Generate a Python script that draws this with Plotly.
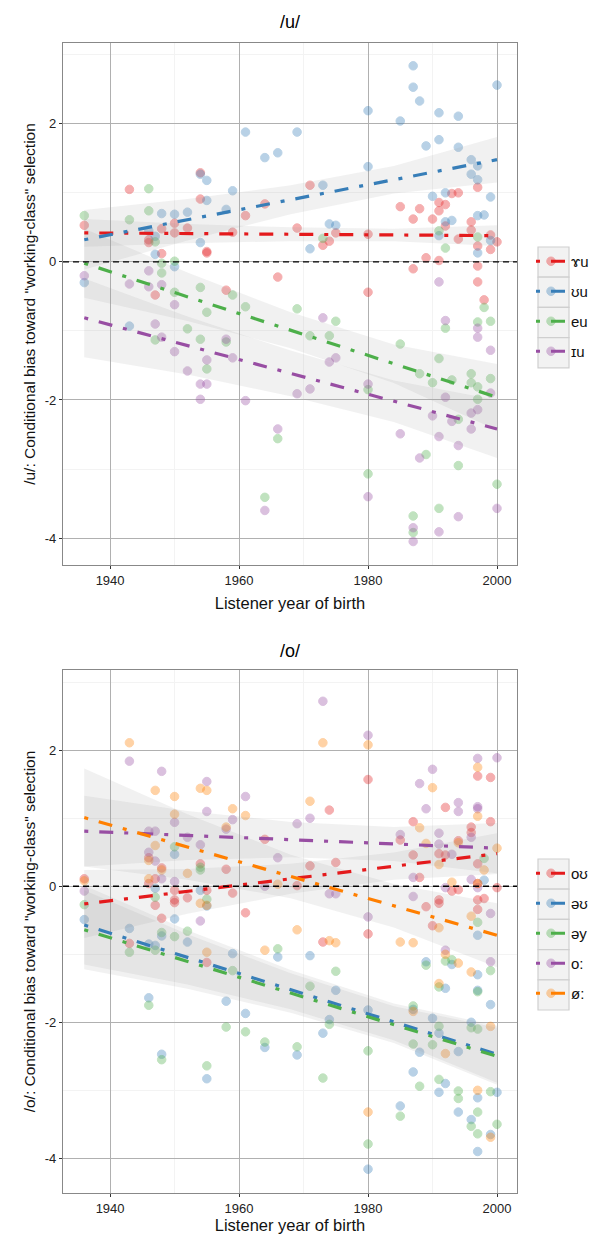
import plotly.graph_objects as go

# The page body has an 8px default margin, so the figure is sized and placed to compensate.
OFF = 8
W, H = 590, 1226
FONT = "Liberation Sans, Arial, sans-serif"

# ---------------- /u/ panel data ----------------
u_cats = ["ɤu", "ʊu", "eu", "ɪu"]
u_colors = ["#E41A1C", "#377EB8", "#4DAF4A", "#984EA3"]

u_ru_year = [1943, 1954, 1954, 1936, 1961, 1964, 1950, 1948, 1950, 1952, 1959, 1946, 1946, 1948, 1955, 1955,
             1958, 1966, 1947, 1971, 1997, 1993, 1994, 1991, 1992, 1985, 1988, 1991, 1987, 1990, 1996, 1992,
             1996, 1969, 1975, 1974, 1973, 1980, 1994, 1999, 2000, 1997, 1999, 1989, 1991, 1997, 1987, 1997,
             1980, 1998]
u_ru_val = [1.05, 1.29, 0.91, 0.53, 0.67, 0.84, 0.56, 0.48, 0.42, 0.49, 0.43, 0.32, 0.28, 0.12, 0.15, 0.13,
            -0.41, -0.22, -0.48, 1.11, 1.08, 0.99, 1.00, 0.86, 0.83, 0.80, 0.77, 0.74, 0.62, 0.62, 0.58, 0.52,
            0.46, 0.49, 0.42, 0.30, 0.24, 0.40, 0.33, 0.39, 0.29, 0.23, 0.18, 0.06, 0.02, -0.06, -0.10, -0.29,
            -0.44, -0.55]

u_uu_year = [1961, 1964, 1966, 1954, 1955, 1955, 1959, 1948, 1950, 1952, 1958, 1946, 1947, 1947, 1954, 1950,
             1936, 1943, 1987, 1987, 1988, 2000, 1980, 1985, 1991, 1994, 1969, 1989, 1991, 1994, 1996, 1997,
             1980, 1996, 1997, 1999, 1973, 1990, 1992, 1997, 1998, 1992, 1993, 1991, 1974, 1975, 1971, 1999,
             1997]
u_uu_val = [1.88, 1.51, 1.58, 1.27, 1.18, 0.89, 1.03, 0.70, 0.69, 0.72, 0.76, 0.45, 0.37, 0.11, 0.28, -0.07,
            -0.30, -0.93, 2.84, 2.53, 2.33, 2.56, 2.19, 2.04, 2.16, 2.11, 1.88, 1.68, 1.77, 1.66, 1.48, 1.39,
            1.38, 1.27, 1.19, 0.94, 1.11, 0.95, 1.00, 0.67, 0.68, 0.58, 0.60, 0.38, 0.55, 0.53, 0.19, 0.31,
            0.13]

u_eu_year = [1946, 1946, 1943, 1936, 1947, 1948, 1950, 1948, 1950, 1954, 1959, 1973, 1991, 1997, 1992, 1955,
             1961, 1947, 1952, 1954, 1958, 1955, 1966, 1964, 1969, 1975, 1971, 1974, 1985, 1992, 1998, 1997,
             1999, 1991, 1988, 1990, 1993, 1996, 1996, 1997, 1999, 1980, 1997, 1994, 1989, 1994, 1980, 2000,
             1991, 1987, 1987]
u_eu_val = [1.06, 0.74, 0.61, 0.67, 0.29, -0.02, 0.01, -0.16, -0.44, -0.37, -0.48, 0.34, 0.45, 0.36, 0.20, -0.73,
            -0.65, -1.13, -0.97, -1.12, -1.16, -1.55, -2.56, -3.41, -0.68, -0.86, -1.07, -1.07, -1.19, -0.96, -0.66, -0.87,
            -0.86, -1.40, -1.62, -1.75, -1.71, -1.62, -1.75, -1.81, -1.69, -1.85, -1.99, -2.28, -2.79, -2.95, -3.07, -3.22,
            -3.57, -3.68, -3.92]

u_iu_year = [1946, 1936, 1943, 1946, 1948, 1950, 1947, 1948, 1958, 1950, 1955, 1959, 1952, 1954, 1955, 1954,
             1961, 1966, 1964, 1973, 1974, 1975, 1969, 1971, 1992, 1997, 1997, 1999, 1980, 1992, 1997, 1996,
             1999, 1990, 1993, 1996, 1985, 1991, 1994, 1988, 1980, 2000, 1994, 1987, 1987, 1991, 1991]
u_iu_val = [-0.13, -0.20, -0.32, -0.36, -0.33, -0.62, -0.90, -1.09, -1.12, -1.30, -1.42, -1.39, -1.58, -1.77, -1.77, -1.99,
            -2.01, -2.42, -3.60, -0.81, -1.45, -1.39, -1.91, -1.84, -0.85, -0.96, -1.09, -1.28, -1.77, -1.96, -2.14, -2.19,
            -1.90, -2.23, -2.31, -2.42, -2.49, -2.53, -2.66, -2.84, -3.40, -3.57, -3.69, -3.85, -4.05, -3.91, -0.29]

u_years = [u_ru_year, u_uu_year, u_eu_year, u_iu_year]
u_vals = [u_ru_val, u_uu_val, u_eu_val, u_iu_val]

# fitted lines (value at first / last year) and confidence half-widths
fit_years = [1936, 2000]
u_fit_start = [0.42, 0.32, -0.02, -0.81]
u_fit_end = [0.38, 1.48, -1.96, -2.42]
band_years = [1936, 1952, 1968, 1984, 2000]
u_band_half = [
    [0.20, 0.14, 0.10, 0.09, 0.15],
    [0.43, 0.30, 0.21, 0.20, 0.33],
    [0.50, 0.35, 0.26, 0.28, 0.48],
    [0.57, 0.42, 0.33, 0.30, 0.42],
]

# ---------------- /o/ panel data ----------------
o_cats = ["oʊ", "əʊ", "əy", "o:", "ø:"]
o_colors = ["#E41A1C", "#377EB8", "#4DAF4A", "#984EA3", "#FF7F00"]

o_ou_year = [1946, 1954, 1948, 1958, 1964, 1947, 1936, 1946, 1950, 1955, 1959, 1952, 1950, 1947, 1950, 1961,
             1948, 1943, 1955, 1980, 1997, 1999, 1974, 1992, 1999, 1987, 1996, 1996, 1985, 1994, 1987, 1991,
             1992, 1997, 1971, 1975, 1988, 1997, 2000, 1993, 1994, 1969, 1991, 1997, 1998, 1980, 1973, 1989,
             1991, 1990, 1997]
o_ou_val = [0.42, 0.33, 0.27, 0.25, 0.69, 0.11, 0.11, 0.04, -0.06, -0.06, -0.10, -0.17, -0.20, -0.28, -0.24, -0.39,
            -0.47, -0.84, -1.12, 1.57, 1.62, 1.60, 1.12, 1.16, 0.95, 0.95, 0.87, 0.79, 0.68, 0.67, 0.46, 0.48,
            0.46, 0.33, 0.30, 0.35, 0.13, 0.04, -0.02, -0.07, -0.05, 0.01, -0.20, -0.20, -0.18, -0.70, -0.82, -0.30,
            -0.25, -0.58, -0.34]

o_eu_year = [1950, 1947, 1954, 1998, 1955, 1936, 1950, 1943, 1948, 1952, 1946, 1947, 1959, 1966, 1946, 1958,
             1961, 1964, 1948, 1955, 1997, 1993, 1997, 1989, 1971, 1975, 1992, 1997, 1999, 1980, 1987, 1974,
             1973, 1969, 1990, 1991, 1996, 1988, 1994, 1987, 1991, 1992, 1994, 1997, 2000, 1996, 1999, 1997,
             1985, 1980]
o_eu_val = [0.47, -0.03, -0.06, 0.09, -0.29, -0.49, -0.48, -0.62, -0.73, -0.82, -0.85, -0.87, -0.99, -1.04, -1.64, -1.69,
            -1.87, -2.37, -2.47, -2.83, -0.72, -1.15, -1.30, -1.11, -1.02, -1.53, -1.50, -1.53, -1.74, -1.82, -1.81, -1.96,
            -2.16, -2.48, -1.94, -2.16, -2.00, -2.44, -2.43, -2.73, -3.03, -2.90, -3.32, -3.11, -3.03, -3.43, -3.65, -3.90,
            -3.23, -4.16]

o_ey_year = [1950, 1954, 1954, 1998, 1947, 1955, 1936, 1948, 1950, 1952, 1943, 1947, 1959, 1966, 1946, 1958,
             1961, 1964, 1948, 1955, 1997, 1993, 1992, 1999, 1989, 1975, 1971, 1991, 1997, 1987, 1974, 1969,
             1991, 1996, 1997, 1987, 1990, 1980, 1973, 1988, 1991, 1994, 1994, 1999, 1997, 1996, 1997, 2000,
             1985, 1980]
o_ey_val = [0.58, 0.28, 0.24, 0.41, -0.16, -0.19, -0.27, -0.68, -0.74, -0.66, -0.97, -0.94, -1.24, -0.92, -1.75, -2.07,
            -2.14, -2.29, -2.55, -2.64, -0.53, -1.08, -1.10, -1.24, -1.16, -1.25, -1.47, -1.48, -1.55, -1.76, -2.03, -2.36,
            -2.06, -2.08, -2.10, -2.32, -2.33, -2.42, -2.82, -2.94, -2.84, -3.01, -3.12, -3.02, -3.32, -3.53, -3.64, -3.50,
            -3.38, -3.79]

o_oo_year = [1943, 1948, 1955, 1955, 1950, 1959, 1961, 1958, 1946, 1947, 1952, 1954, 1946, 1947, 1966, 1948,
             1936, 1950, 1964, 1954, 1973, 1980, 1997, 2000, 1990, 1988, 1969, 1971, 1989, 1994, 1994, 1997,
             1997, 1996, 1991, 1985, 1991, 1993, 1987, 1996, 1992, 1997, 1974, 1975, 1987, 1980, 1999, 1992,
             1999]
o_oo_val = [1.84, 1.69, 1.54, 1.10, 0.94, 0.98, 1.32, 0.84, 0.81, 0.81, 0.72, 0.61, 0.50, 0.37, 0.42, 0.11,
            -0.07, 0.07, 0.00, -0.51, 2.72, 2.22, 1.88, 1.89, 1.72, 1.51, 0.92, 1.00, 1.14, 1.23, 1.10, 1.17,
            1.14, 0.72, 0.78, 0.76, 0.62, 0.47, 0.13, 0.10, -0.02, -0.02, -0.11, -0.11, -0.15, -0.45, -0.40, -0.94,
            -1.11]

o_ooe_year = [1943, 1947, 1950, 1954, 1955, 1950, 1959, 1961, 1958, 1947, 1946, 1948, 1952, 1946, 1936, 1966,
              1954, 1955, 1955, 1964, 1973, 1980, 1997, 1990, 1971, 1997, 1988, 1989, 1994, 2000, 1991, 1998,
              1993, 1997, 1969, 1974, 1975, 1991, 1985, 1987, 1996, 1992, 1994, 1996, 1991, 1999, 1992, 1987,
              1980, 1997, 1999]
o_ooe_val = [2.11, 1.41, 1.32, 1.44, 1.41, 1.06, 1.14, 1.04, 0.87, 0.60, 0.38, 0.24, 0.19, 0.11, 0.08, 0.03,
             -0.25, -0.28, -0.97, -0.94, 2.11, 2.08, 1.75, 1.45, 1.25, 1.03, 0.86, 0.63, 0.64, 0.56, 0.32, 0.24,
             0.06, 0.04, -0.64, -0.80, -0.83, -0.61, -0.82, -0.83, -0.44, -1.00, -1.13, -1.26, -1.43, -2.06, -2.46, -1.84,
             -3.32, -3.00, -3.69]

o_years = [o_ou_year, o_eu_year, o_ey_year, o_oo_year, o_ooe_year]
o_vals = [o_ou_val, o_eu_val, o_ey_val, o_oo_val, o_ooe_val]

o_fit_start = [-0.26, -0.57, -0.64, 0.81, 1.01]
o_fit_end = [0.48, -2.47, -2.50, 0.56, -0.72]
o_band_half = [
    [0.50, 0.33, 0.22, 0.20, 0.30],
    [0.58, 0.40, 0.29, 0.27, 0.42],
    [0.58, 0.40, 0.29, 0.27, 0.42],
    [0.52, 0.36, 0.26, 0.25, 0.37],
    [0.72, 0.48, 0.32, 0.32, 0.47],
]

y_ticks = [-4, -2, 0, 2]
y_ticktext = ["-4", "-2", "0", "2"]
x_ticks = [1940, 1960, 1980, 2000]


def px_x(px):
    return (px - OFF) / W


def px_y(py):
    return 1 - (py - OFF) / H


fig = go.Figure()
DASH = "4px,11px,14px,11px"
PT_SIZE = 8.5


def add_panel(cats, colors, years, vals, fstart, fend, bhalf, xa, ya, legend_name):
    # points
    for c, col, xs, ys in zip(cats, colors, years, vals):
        fig.add_trace(go.Scatter(
            x=xs, y=ys, mode="markers", xaxis=xa, yaxis=ya, showlegend=False,
            marker=dict(size=PT_SIZE, color=col, opacity=0.35, line=dict(color=col, width=1)),
            hoverinfo="skip"))
    # ribbons
    for c, col, s, e, hw in zip(cats, colors, fstart, fend, bhalf):
        centre = [s + (e - s) * (yr - fit_years[0]) / (fit_years[1] - fit_years[0]) for yr in band_years]
        up = [m + h for m, h in zip(centre, hw)]
        lo = [m - h for m, h in zip(centre, hw)]
        fig.add_trace(go.Scatter(
            x=band_years + band_years[::-1], y=up + lo[::-1], fill="toself",
            fillcolor="rgba(153,153,153,0.14)", line=dict(width=0), mode="lines",
            xaxis=xa, yaxis=ya, showlegend=False, hoverinfo="skip"))
    # fit lines; they also carry the legend key (point + line).  Markers at the two line ends are
    # size 0 (invisible); a trailing empty point lets the legend key show a normal-sized marker.
    for c, col, s, e in zip(cats, colors, fstart, fend):
        fig.add_trace(go.Scatter(
            x=fit_years + [None], y=[s, e, None], mode="lines+markers", name=c,
            legendgroup=legend_name + c, legend=legend_name, xaxis=xa, yaxis=ya,
            line=dict(color=col, width=3.2, dash=DASH), connectgaps=False,
            marker=dict(size=[0, 0, 3 * PT_SIZE], color=col, opacity=0.35,
                        line=dict(color=col, width=[0, 0, 3])),
            hoverinfo="skip"))


add_panel(u_cats, u_colors, u_years, u_vals, u_fit_start, u_fit_end, u_band_half, "x", "y", "legend")
add_panel(o_cats, o_colors, o_years, o_vals, o_fit_start, o_fit_end, o_band_half, "x2", "y2", "legend2")

x_dom = [px_x(63), px_x(517)]
top_dom = [px_y(565), px_y(43)]
bot_dom = [px_y(1193), px_y(670)]

axis_common = dict(
    showline=True, mirror=True, linecolor="#888888", linewidth=1.2,
    showgrid=True, gridcolor="#b0b0b0", gridwidth=1, zeroline=False,
    ticks="outside", ticklen=3, tickcolor="#333333", tickwidth=1,
    tickfont=dict(family=FONT, size=13, color="#222222"), automargin=False,
)
minor_x = dict(tickvals=[1950, 1970, 1990], showgrid=True, gridcolor="#f3f3f3", ticks="")
minor_y = dict(tickvals=[-3, -1, 1, 3], showgrid=True, gridcolor="#f3f3f3", ticks="")

xrange = [1932.7, 2003.1]
legend_common = dict(xanchor="left", yanchor="top", bgcolor="rgba(0,0,0,0)",
                     font=dict(size=15, family=FONT, color="#111111"), itemsizing="trace",
                     tracegroupgap=7.5, traceorder="grouped")
fig.update_layout(
    width=W, height=H, margin=dict(l=0, r=0, t=0, b=0),
    paper_bgcolor="white", plot_bgcolor="white",
    font=dict(family=FONT, color="#111111"),
    xaxis=dict(domain=x_dom, anchor="y", range=xrange, tickvals=x_ticks, minor=minor_x,
               title=dict(text="Listener year of birth", font=dict(size=16.5, family=FONT), standoff=10),
               **axis_common),
    yaxis=dict(domain=top_dom, anchor="x", range=[-4.39, 3.17], tickvals=y_ticks, ticktext=y_ticktext,
               minor=minor_y,
               title=dict(text='/u/: Conditional bias toward "working-class" selection',
                          font=dict(size=15.5, family=FONT), standoff=5),
               **axis_common),
    xaxis2=dict(domain=x_dom, anchor="y2", range=xrange, tickvals=x_ticks, minor=minor_x,
                title=dict(text="Listener year of birth", font=dict(size=16.5, family=FONT), standoff=12),
                **axis_common),
    yaxis2=dict(domain=bot_dom, anchor="x2", range=[-4.51, 3.18], tickvals=y_ticks, ticktext=y_ticktext,
                minor=minor_y,
                title=dict(text='/o/: Conditional bias toward "working-class" selection',
                           font=dict(size=15.5, family=FONT), standoff=5),
                **axis_common),
    legend=dict(x=px_x(531), y=px_y(245), **legend_common),
    legend2=dict(x=px_x(531), y=px_y(857), **legend_common),
    showlegend=True,
)

# zero reference lines
for xa, ya in (("x", "y"), ("x2", "y2")):
    fig.add_shape(type="line", xref=xa + " domain", yref=ya, x0=0, x1=1, y0=0, y1=0,
                  line=dict(color="black", width=1.4, dash="6px,4px"), layer="above")


# legend key backgrounds (ggplot style)
def key_boxes(top_px, n):
    for i in range(n):
        y_top = top_px + i * 30.2
        fig.add_shape(type="rect", xref="paper", yref="paper",
                      x0=px_x(538), x1=px_x(569), y0=px_y(y_top + 30.2), y1=px_y(y_top),
                      fillcolor="#f2f2f2", line=dict(color="#cfcfcf", width=1.2), layer="below")


key_boxes(247, 4)
key_boxes(859, 5)

# panel titles
fig.add_annotation(text="/u/", x=px_x(290), y=px_y(22), xref="paper", yref="paper", yanchor="middle",
                   showarrow=False, font=dict(size=18, family=FONT, color="black"))
fig.add_annotation(text="/o/", x=px_x(290), y=px_y(651), xref="paper", yref="paper", yanchor="middle",
                   showarrow=False, font=dict(size=18, family=FONT, color="black"))

fig.write_html("out.html")
